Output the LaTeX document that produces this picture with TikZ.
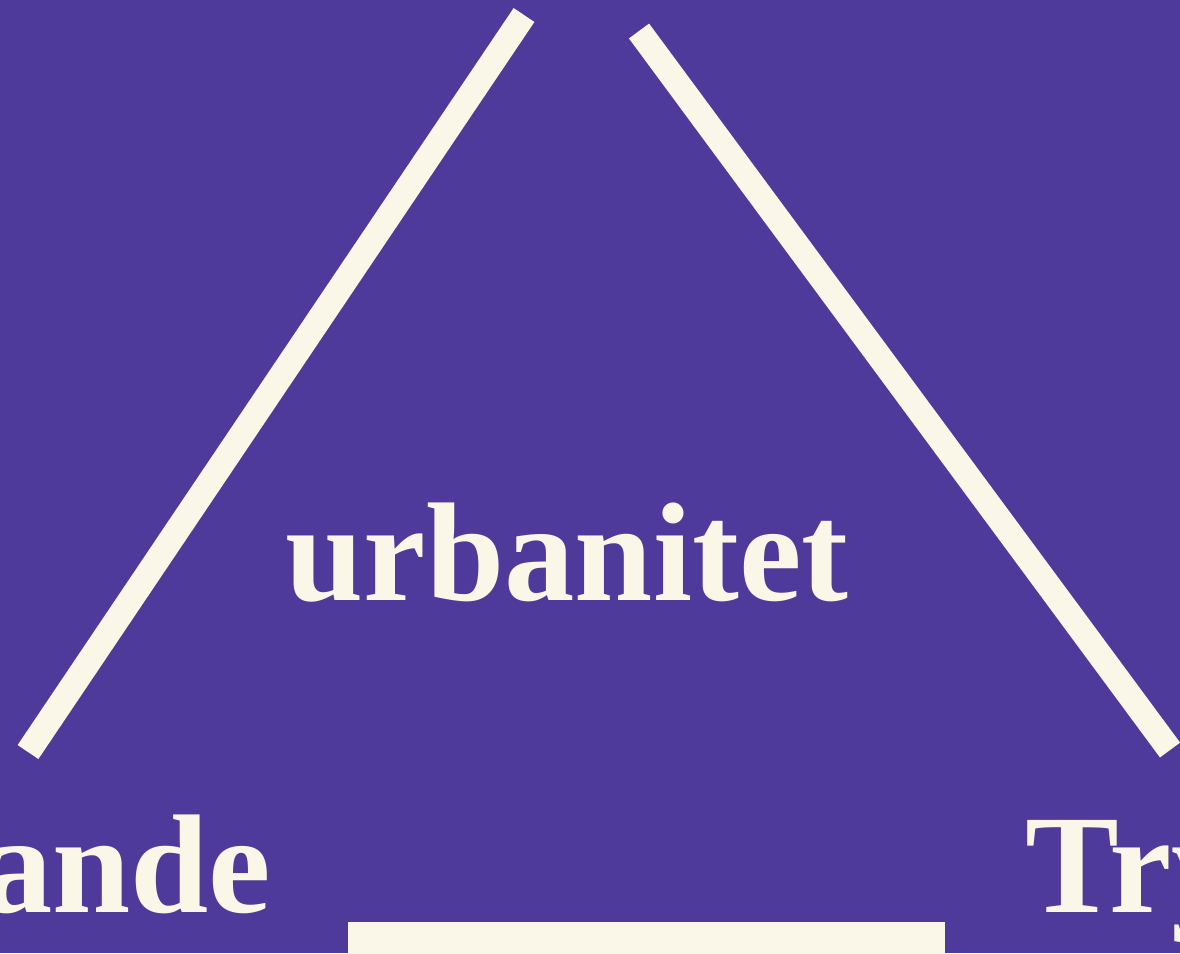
\documentclass[tikz,border=0pt]{standalone}
\usepackage{fontspec}
\setmainfont{Liberation Serif}
\definecolor{plum}{RGB}{78,58,154}
\definecolor{cream}{RGB}{250,246,232}
\tikzset{
  bar/.style={draw=cream, line width=0.25cm},
  word/.style={text=cream, font=\bfseries\fontsize{40}{48}\selectfont, inner sep=0pt}
}
\begin{document}
\begin{tikzpicture}[x=0.01cm, y=-0.01cm]
    % Frame
    \useasboundingbox (0,0) rectangle (1180,953);
    \clip (0,0) rectangle (1180,953);
    \fill[plum] (0,0) rectangle (1180,953);
    % Line ends
    \coordinate (lefttop) at (524,15);
    \coordinate (leftfoot) at (28,752);
    \coordinate (righttop) at (639,31);
    \coordinate (rightfoot) at (1170,750);
    \coordinate (baseleft) at (348,938);
    \coordinate (baseright) at (945,938);
    % Sides
    \draw[bar] (lefttop) -- (leftfoot);
    \draw[bar] (righttop) -- (rightfoot);
    \draw[bar, line width=0.32cm] (baseleft) -- (baseright);
    % Words
    \node[word, anchor=base] (urban) at (567,600) {urbanitet};
    \node[word, anchor=base east] (ande) at (272,912) {ande};
    \node[word, anchor=base west] (try) at (1025,912) {Try};
\end{tikzpicture}
\end{document}
